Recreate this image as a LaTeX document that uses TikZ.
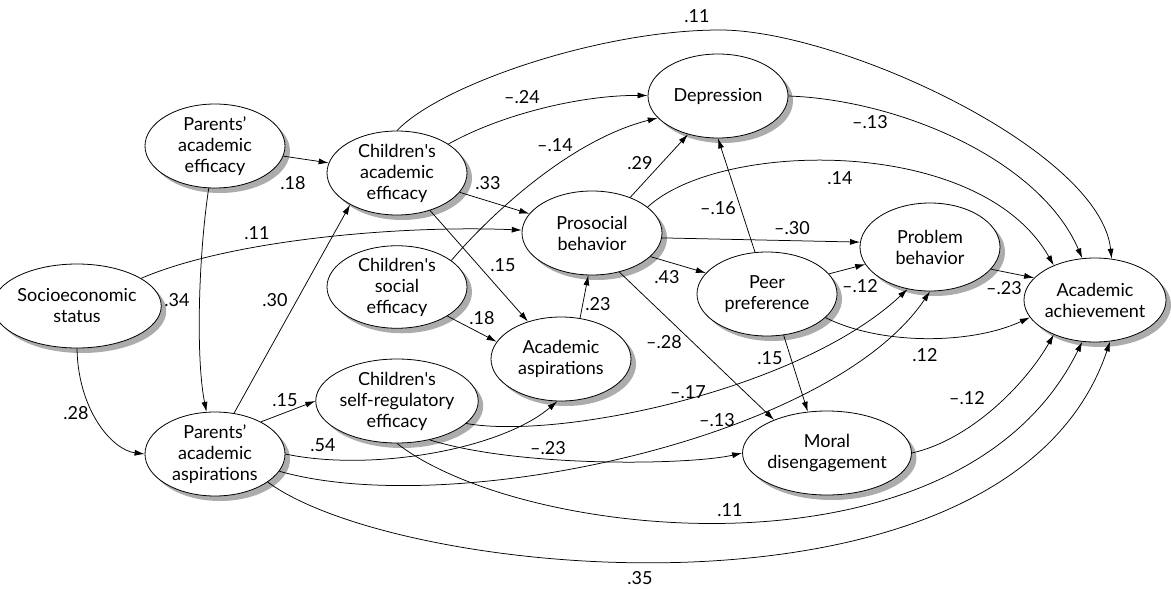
\documentclass[tikz,border=0pt]{standalone}
\usepackage{fontspec}
\setmainfont{Lato}
\usetikzlibrary{shapes.geometric,shadows,arrows.meta}
\begin{document}
\begin{tikzpicture}[x=1pt,y=-1pt,
  var/.style={ellipse,draw,fill=white,line width=0.8pt,minimum width=140pt,minimum height=84pt,inner sep=0pt,align=center,font=\fontsize{18}{21}\selectfont,
    drop shadow={shadow xshift=5pt,shadow yshift=-5pt,fill=gray!65,opacity=1}},
  arr/.style={-{Latex[length=10pt,width=6pt]},line width=0.75pt},
  lab/.style={font=\fontsize{18}{21}\selectfont,inner sep=0pt}]
\useasboundingbox (0,0) rectangle (1171,589);
% nodes
\node[var] (pae) at (215,146) {Parents’\\academic\\efficacy};
\node[var] (cae) at (397,173) {Children\textquotesingle s\\academic\\efficacy};
\node[var] (ses) at (77,306) {Socioeconomic\\status};
\node[var] (paa) at (215,454) {Parents’\\academic\\aspirations};
\node[var,minimum height=76pt] (cse) at (397,287) {Children\textquotesingle s\\social\\efficacy};
\node[var] (csre) at (397,401) {Children\textquotesingle s\\self-regulatory\\efficacy};
\node[var] (aa) at (561,359) {Academic\\aspirations};
\node[var] (pro) at (592,233) {Prosocial\\behavior};
\node[var] (dep) at (718,96) {Depression};
\node[var] (peer) at (767,294) {Peer\\preference};
\node[var,minimum height=88pt] (pb) at (930,247) {Problem\\behavior};
\node[var] (ach) at (1095,300) {Academic\\achievement};
\node[var] (md) at (827,453) {Moral\\disengagement};
% edges
\draw[arr] (pae) -- (cae);
\draw[arr] (pae) .. controls (198,260) and (196,360) .. (paa);
\draw[arr] (ses) .. controls (230,240) and (400,225) .. (pro);
\draw[arr] (ses.270) .. controls (78,410) and (112,450) .. (paa.west);
\draw[arr] (paa.65) -- (cae.214);
\draw[arr] (paa.35) -- (csre.west);
\draw[arr] (paa.east) .. controls (370,472) and (500,450) .. (aa.265);
\draw[arr] (paa.-15) .. controls (450,520) and (830,440) .. (pb.south);
\draw[arr] (paa.-28) .. controls (400,580) and (1010,640) .. (ach.-70);
\draw[arr] (csre.-18) .. controls (560,440) and (800,390) .. (pb.242);
\draw[arr] (csre.-50) .. controls (520,468) and (690,465) .. (md.west);
\draw[arr] (csre.south) .. controls (520,540) and (960,590) .. (ach.-107);
\draw[arr] (md.east) .. controls (970,440) and (1025,385) .. (ach.-140);
\draw[arr] (cae) .. controls (500,115) and (580,95) .. (dep);
\coordinate (top) at (720,30);
\draw[arr] (cae.north) .. controls (440,85) and (600,30) .. (top)
  .. controls (840,30) and (1100,150) .. (ach.68);
\draw[arr] (cae) -- (pro);
\draw[arr] (cae) -- (aa);
\draw[arr] (cse.26) .. controls (490,215) and (570,140) .. (dep.200);
\draw[arr] (cse.-30) -- (aa.165);
\draw[arr] (aa.65) -- (pro.265);
\draw[arr] (pro.43) -- (dep.232);
\draw[arr] (pro.25) .. controls (720,140) and (980,135) .. (ach.140);
\draw[arr] (pro.-4) -- (pb.176);
\draw[arr] (pro.-22) -- (peer.161);
\draw[arr] (pro.-55) -- (md.148);
\draw[arr] (peer.106) -- (dep.south);
\draw[arr] (peer.18) -- (pb.195);
\draw[arr] (peer.-22) .. controls (880,345) and (970,345) .. (ach.195);
\draw[arr] (peer.-68) -- (md.115);
\draw[arr] (dep.east) .. controls (900,100) and (1040,160) .. (ach.107);
\draw[arr] (pb.-20) -- (ach.160);
% labels
\node[lab] (l1) at (697,16) {.11};
\node[lab] (l2) at (522,97) {--.24};
\node[lab] (l3) at (555,145) {--.14};
\node[lab] (l4) at (870,122) {--.13};
\node[lab] (l5) at (293,183) {.18};
\node[lab] (l6) at (488,183) {.33};
\node[lab] (l7) at (640,163) {.29};
\node[lab] (l8) at (840,178) {.14};
\node[lab] (l9) at (718,208) {--.16};
\node[lab] (l10) at (792,228) {--.30};
\node[lab] (l11) at (257,233) {.11};
\node[lab] (l12) at (667,277) {.43};
\node[lab] (l13) at (503,265) {.15};
\node[lab] (l14) at (860,286) {--.12};
\node[lab] (l15) at (1004,288) {--.23};
\node[lab] (l16) at (177,300) {.34};
\node[lab] (l17) at (275,300) {.30};
\node[lab] (l18) at (482,318) {.18};
\node[lab] (l19) at (598,304) {.23};
\node[lab] (l20) at (664,342) {--.28};
\node[lab] (l21) at (925,355) {.12};
\node[lab] (l22) at (76,413) {.28};
\node[lab] (l23) at (285,400) {.15};
\node[lab] (l24) at (323,445) {.54};
\node[lab] (l25) at (770,358) {.15};
\node[lab] (l26) at (688,392) {--.17};
\node[lab] (l27) at (717,420) {--.13};
\node[lab] (l28) at (967,398) {--.12};
\node[lab] (l29) at (548,448) {--.23};
\node[lab] (l30) at (730,510) {.11};
\node[lab] (l31) at (640,578) {.35};
\end{tikzpicture}
\end{document}
